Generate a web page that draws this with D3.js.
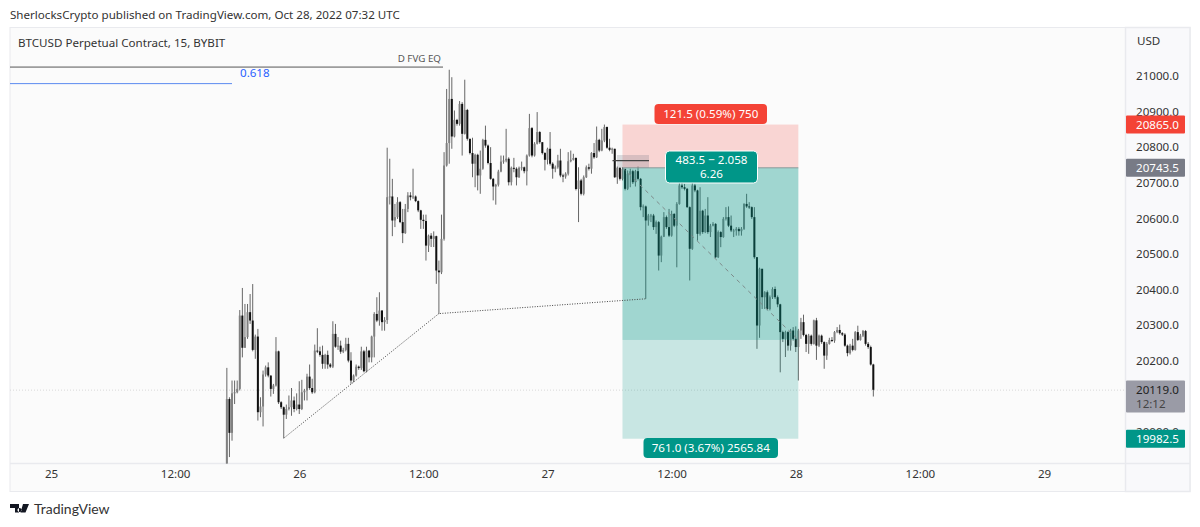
<!DOCTYPE html>
<html>
<head>
<meta charset="utf-8">
<script src="https://cdnjs.cloudflare.com/ajax/libs/d3/7.8.5/d3.min.js"></script>
<style>
  body { margin: 0; background: #fff; }
  text { font-family: "Noto Sans", sans-serif; }
</style>
</head>
<body>
<svg id="chart" width="1200" height="527"></svg>
<script>
// BTCUSD 15 minute bars, first bar is number 68 after Oct 25 00:00
var firstBar = 68;
var firstOpen = 19880;
var closes = [
  20094,19999,20110,20113,20122.5,20328.5,20238,20268,20338,20314.5,
  20232,20269.5,20057,20073,20163,20183,20160,20122.5,20132,20228,
  20085,20071,20050,20066,20071,20090,20066,20078.5,20066,20113,
  20118,20157,20125,20113,20230,20228,20218,20193,20218,20191,
  20185,20277,20241,20244,20227,20232,20249,20202,20146,20160,
  20185,20181,20228,20172,20230,20211,20269.5,20333,20314.5,20342.5,
  20310,20316,20661,20663,20595.5,20605,20647,20591,20560,20628,
  20666,20661,20663,20650,20624,20597.5,20594,20525,20553,20544,
  20551.5,20455,20450,20544,20750,20813,20937,20831.5,20878,20867,
  20923,20839,20906,20825,20785,20755,20780,20722,20741,20822,
  20806,20757,20712.5,20691,20696,20733,20761,20764,20769,20703,
  20743.5,20741,20717,20743.5,20745,20734,20778,20855,20778,20811,
  20844,20815.5,20785,20766,20797,20755,20741,20745,20764,20722,
  20719,20727,20762,20766,20771,20684,20708,20670.5,20717,20745,
  20741,20785,20773,20822,20792,20820,20858,20800,20794,20797,
  20717,20743.5,20712.5,20740.5,20684.5,20726.5,20734,20703,20734,20712.5,
  20633,20635,20595.5,20609.5,20609.5,20577,20591,20497,20550,20605,
  20577,20553,20614,20581,20642,20694,20689,20684.5,20633,20516,
  20694,20680,20558,20623,20563,20609.5,20563,20581,20586,20492.5,
  20563,20549,20600,20605,20581,20567.5,20567.5,20572,20565.5,20572,
  20642,20635,20633,20605,20492.5,20300.5,20460,20380,20394,20347,
  20380,20403,20380,20360,20282,20263,20282,20244,20286.5,20263,
  20240,20286.5,20310,20274,20249,20272,20249,20315,20244,20272,
  20254,20216,20249,20260,20258,20282,20288,20279,20275,20244,
  20223,20244,20232,20282,20260,20272,20285,20249,20240,20191,
  20120
];
var highs = [
  20181.5,20099,20146,20146,20146,20344,20406,20361,20361,20389,
  20417,20275,20291,20099,20174,20188,20197,20160,20136.5,20268,
  20230,20088,20073,20078.5,20104,20125,20101,20110,20144,20148,
  20122.5,20165,20191,20151,20247,20293,20241,20244,20221,20230,
  20195,20312.5,20305,20268,20258,20238,20266,20266,20225.5,20163,
  20191,20188,20241,20232,20241,20232,20272,20338,20380,20394,
  20344,20324,20800,20769,20712.5,20642,20661,20650,20628,20642,
  20675,20675,20741,20666,20652,20625.5,20612,20612,20556,20560,
  20565,20553,20483,20612,20787.5,20965,21019,20998,20904.5,20881,
  20931,20928,20991,20909,20825,20828,20783,20783,20792,20825,
  20862,20809,20801.5,20715,20698.5,20738,20778,20778,20853,20773,
  20747,20771.5,20745,20747,20761,20747,20781,20895,20858,20815.5,
  20900,20846.5,20815.5,20787.5,20800,20844,20759,20750,20780,20797,
  20727,20731,20787.5,20792,20783,20773,20745,20712.5,20722,20750,
  20755,20787.5,20813,20859.5,20825,20853,20865,20859.5,20825,20800,
  20797,20747,20745,20745,20741,20736,20741,20738,20738,20747,
  20715,20640.5,20637.5,20614,20614,20614,20595.5,20594,20553,20619,
  20609.5,20628,20623,20616,20647,20708,20703,20698.5,20687,20635,
  20708,20698.5,20682,20689,20625.5,20628,20661,20586,20591,20588,
  20567.5,20565.5,20605,20633,20635,20609.5,20572,20577,20577,20577,
  20644,20670.5,20647,20635,20633,20492.5,20463,20432,20397,20399,
  20385,20408,20410,20385,20361.5,20286,20286,20285,20291,20296,
  20298,20291,20322,20331,20277,20277,20275,20317,20322,20275,
  20275,20256,20254,20266,20268,20285,20296,20303,20282,20279,
  20247,20249,20263,20285,20300,20277,20288,20288,20254,20244,
  20193
];
var lows = [
  19860,19931,19977,20080,20110,20118,20211,20238,20263,20305,
  20228,20207,20033.5,20043,20017,20157,20155,20101,20108.5,20129,
  20080,20066,19984,20038,20062,20047,20057,20062,20052,20063,
  20090,20090,20120,20108.5,20110,20223,20213,20179,20179,20179,
  20181,20181,20238,20232,20221,20223,20228,20197,20136.5,20141,
  20157,20176,20176,20169,20169,20197,20197,20211,20310,20300,
  20286,20286,20305,20640.5,20551.5,20577,20600,20588,20532,20558,
  20619,20652,20656,20647,20619,20572,20572,20483,20507,20521,
  20521,20417.5,20333,20445,20539,20747,20755,20797,20829,20862,
  20862,20778,20837,20820,20781,20717,20689,20680,20670.5,20738,
  20800,20753,20710,20652,20640,20691,20731,20755,20759,20694,
  20694,20731,20694,20715,20736,20728,20694,20775,20773,20775,
  20809,20811,20781,20736,20753,20750,20713,20731,20741,20717,
  20703,20713,20722,20759,20764,20680,20591,20666,20666,20715,
  20736,20727,20769,20771,20787.5,20790,20815.5,20797,20790,20783,
  20715,20698.5,20708,20708,20680,20681,20689,20698,20691,20708,
  20624,20605,20375.5,20581,20591,20569,20558,20455,20478.5,20549,
  20572,20549,20550,20577,20464,20640,20684.5,20680,20631,20427,
  20513,20675,20539,20553,20558,20560,20558,20549,20579,20490,
  20490,20520.5,20547,20595.5,20577,20563,20549,20553,20553,20553,
  20569,20631,20628,20600,20488,20235,20266,20347,20347,20343,
  20343,20375,20375,20352,20169,20254,20212,20230,20230,20258,
  20226,20146,20263,20270,20226,20221,20244,20247,20204,20240,
  20249,20179,20204,20247,20254,20252,20279,20275,20271,20241,
  20214,20219,20228,20230,20257,20258,20268,20244,20235,20188,
  20101
];

// 20100.0 sits fully behind the grey last price tag in the picture, so it is left out
var priceTicks = [21000, 20900, 20800, 20700, 20600, 20500, 20400, 20300, 20200, 20000];
var timeTicks = ['2022-10-25T00:00Z', '2022-10-25T12:00Z', '2022-10-26T00:00Z', '2022-10-26T12:00Z',
  '2022-10-27T00:00Z', '2022-10-27T12:00Z', '2022-10-28T00:00Z', '2022-10-28T12:00Z', '2022-10-29T00:00Z'];

var stopPrice = 20865, entryPrice = 20743.5, targetPrice = 19982.5, lastPrice = 20119, reachedPrice = 20260;
var positionStartBar = 221, positionEndBar = 289;
var swingBars = [90, 150, 230];
var swingPrices = [19984, 20334, 20375.5];
var fvgPrice = 21026.5, fibPrice = 20980, boxTop = 20779.5, boxBottom = 20743.5, boxLine = 20763.5;

var svg = d3.select('#chart');
var width = 1200, height = 527;
var fontSize = '11.6px';

var plotLeft = 10, plotRight = 1125.5, plotTop = 27.5, plotBottom = 463.5, frameRight = 1190, frameBottom = 491.5;

var startDay = Date.UTC(2022, 9, 25);
function barTime(n) { return new Date(startDay + n * 15 * 60000); }

var x = d3.scaleUtc()
    .domain([new Date('2022-10-25T00:00Z'), new Date('2022-10-29T00:00Z')])
    .range([51, 1044]);
var y = d3.scaleLinear().domain([21000, 20200]).range([76.5, 361.3]);

var bars = closes.map(function (c, i) {
  return { n: firstBar + i, open: i ? closes[i - 1] : firstOpen, close: c, high: highs[i], low: lows[i] };
});

// panels
svg.append('rect').attr('x', plotLeft).attr('y', plotTop).attr('width', frameRight - plotLeft)
    .attr('height', frameBottom - plotTop).style('fill', '#fbfbfb').style('stroke', '#e9eaee');
svg.append('rect').attr('x', plotRight).attr('y', plotTop).attr('width', frameRight - plotRight)
    .attr('height', frameBottom - plotTop).style('fill', '#f9f9fb').style('stroke', '#e9eaee').style('stroke-width', 1.5);
svg.append('line').attr('x1', plotLeft).attr('x2', frameRight).attr('y1', plotBottom).attr('y2', plotBottom)
    .style('stroke', '#e9eaee').style('stroke-width', 1.5);

svg.append('defs').append('clipPath').attr('id', 'plot').append('rect')
    .attr('x', plotLeft).attr('y', plotTop).attr('width', plotRight - plotLeft).attr('height', plotBottom - plotTop);
var g = svg.append('g').attr('clip-path', 'url(#plot)');

// last price dotted line
g.append('line').attr('x1', plotLeft).attr('x2', plotRight).attr('y1', y(lastPrice)).attr('y2', y(lastPrice))
    .style('stroke', '#d8d8d8').style('stroke-width', 1).style('stroke-dasharray', '1 2');

// candles
g.selectAll('line.wick').data(bars).join('line').attr('class', 'wick')
    .attr('x1', function (d) { return x(barTime(d.n)); })
    .attr('x2', function (d) { return x(barTime(d.n)); })
    .attr('y1', function (d) { return y(d.high); })
    .attr('y2', function (d) { return y(d.low); })
    .style('stroke', '#666').style('stroke-width', 1);

g.selectAll('rect.body').data(bars).join('rect').attr('class', 'body')
    .attr('x', function (d) { return x(barTime(d.n)) - 1; })
    .attr('width', 2)
    .attr('y', function (d) { return y(Math.max(d.open, d.close)); })
    .attr('height', function (d) { return Math.max(1, Math.abs(y(d.open) - y(d.close))); })
    .style('fill', function (d) { return d.close >= d.open ? '#808080' : '#111'; });

// long position tool
var posX = x(barTime(positionStartBar)), posW = x(barTime(positionEndBar)) - posX;
g.append('rect').attr('x', posX).attr('width', posW).attr('y', y(stopPrice)).attr('height', y(entryPrice) - y(stopPrice))
    .style('fill', 'rgba(244,67,54,0.2)');
g.append('rect').attr('x', posX).attr('width', posW).attr('y', y(entryPrice)).attr('height', y(targetPrice) - y(entryPrice))
    .style('fill', 'rgba(0,150,136,0.2)');
g.append('rect').attr('x', posX).attr('width', posW).attr('y', y(entryPrice)).attr('height', y(reachedPrice) - y(entryPrice))
    .style('fill', 'rgba(0,150,136,0.2)');
g.append('line').attr('x1', posX).attr('x2', posX + posW).attr('y1', y(entryPrice)).attr('y2', y(reachedPrice))
    .style('stroke', '#7d8a8a').style('stroke-width', 1).style('stroke-dasharray', '4 4');
g.append('line').attr('x1', posX).attr('x2', posX + posW).attr('y1', y(entryPrice)).attr('y2', y(entryPrice))
    .style('stroke', '#8a9a98').style('stroke-width', 1);

// grey box and line at the top of the position
var boxX = 617, boxX2 = 649;
g.append('rect').attr('x', boxX).attr('width', boxX2 - boxX).attr('y', y(boxTop)).attr('height', y(boxBottom) - y(boxTop))
    .style('fill', 'rgba(120,123,134,0.25)');
g.append('line').attr('x1', 612.5).attr('x2', boxX2).attr('y1', y(boxLine)).attr('y2', y(boxLine))
    .style('stroke', '#444').style('stroke-width', 1.2);

// swing lines
var swingLine = d3.line()
    .x(function (d, i) { return x(barTime(swingBars[i])); })
    .y(function (d) { return y(d); });
g.append('path').attr('d', swingLine(swingPrices))
    .style('fill', 'none').style('stroke', '#444').style('stroke-width', 1).style('stroke-dasharray', '1 1.5');

// levels at the top left
g.append('line').attr('x1', plotLeft).attr('x2', 443).attr('y1', y(fvgPrice)).attr('y2', y(fvgPrice))
    .style('stroke', '#555').style('stroke-width', 1);
g.append('line').attr('x1', plotLeft).attr('x2', 232).attr('y1', y(fibPrice)).attr('y2', y(fibPrice))
    .style('stroke', '#5c8bf0').style('stroke-width', 1);
svg.append('text').attr('x', 441).attr('y', 62).attr('text-anchor', 'end').style('font-size', '9.8px').style('fill', '#555').text('D FVG EQ');
svg.append('text').attr('x', 240).attr('y', 77).style('font-size', fontSize).style('fill', '#2962ff').text('0.618');

function label(x0, y0, w, h, fill, lines, border) {
  var r = svg.append('rect').attr('x', x0).attr('y', y0).attr('width', w).attr('height', h).attr('rx', 4).style('fill', fill);
  if (border) r.style('stroke', '#fff').style('stroke-width', 1);
  lines.forEach(function (t, i) {
    svg.append('text').attr('x', x0 + w / 2).attr('y', y0 + h / 2 + 4.2 - (lines.length - 1) * 7 + i * 14)
        .attr('text-anchor', 'middle').style('font-size', fontSize).style('fill', '#fff').text(t);
  });
}
label(654.5, 104, 112.5, 20, '#f44336', ['121.5 (0.59%) 750']);
label(665.5, 151, 92, 32, '#009688', ['483.5 \u2212 2.058', '6.26'], true);
label(643.5, 438, 134.5, 20, '#009688', ['761.0 (3.67%) 2565.84']);

// price axis
var yAxis = d3.axisRight(y).tickValues(priceTicks).tickSize(0).tickPadding(0)
    .tickFormat(function (d) { return d.toFixed(1); });
var ya = svg.append('g').attr('transform', 'translate(1136,-0.5)').call(yAxis);
ya.select('.domain').remove();
ya.selectAll('text').style('font-size', fontSize).style('fill', '#333').attr('font-family', null);

svg.append('text').attr('x', 1137).attr('y', 44.5).style('font-size', fontSize).style('fill', '#333').text('USD');

// time axis
var xAxis = d3.axisBottom(x).tickValues(timeTicks.map(function (d) { return new Date(d); })).tickSize(0).tickPadding(0)
    .tickFormat(function (d) { return d.getUTCHours() ? '12:00' : d3.utcFormat('%d')(d); });
var xa = svg.append('g').attr('transform', 'translate(0,470)').call(xAxis);
xa.select('.domain').remove();
xa.selectAll('text').style('font-size', fontSize).style('fill', '#333').attr('font-family', null);

// price labels on the axis
function priceTag(v, fill) {
  svg.append('rect').attr('x', 1126).attr('y', y(v) - 9).attr('width', 59).attr('height', 18).attr('rx', 1).style('fill', fill);
  svg.append('text').attr('x', 1136).attr('y', y(v) + 4.2).style('font-size', fontSize).style('fill', '#fff').text(v.toFixed(1));
}
priceTag(stopPrice, '#f44336');
priceTag(entryPrice, '#787b86');
priceTag(targetPrice, '#009688');
svg.append('rect').attr('x', 1126).attr('y', 380.5).attr('width', 59).attr('height', 32).attr('rx', 1).style('fill', '#9a9ba6');
svg.append('text').attr('x', 1136).attr('y', 393.5).style('font-size', fontSize).style('fill', '#222').text(lastPrice.toFixed(1));
svg.append('text').attr('x', 1136).attr('y', 407.5).style('font-size', fontSize).style('fill', '#444').text('12:12');

// titles
svg.append('text').attr('x', 10).attr('y', 19).style('font-size', fontSize).style('fill', '#333')
    .text('SherlocksCrypto published on TradingView.com, Oct 28, 2022 07:32 UTC');
svg.append('text').attr('x', 18).attr('y', 47).style('font-size', fontSize).style('fill', '#333')
    .text('BTCUSD Perpetual Contract, 15, BYBIT');

// logo
svg.append('path').attr('d', 'M10 504h9v8.5h-4v-4.5h-5z M19.5 508a2 2 0 1 0 .01 0z M23 504h6l-3.5 8.5h-5z').style('fill', '#131722');
svg.append('text').attr('x', 34).attr('y', 514).style('font-family', 'Lato, sans-serif').style('font-size', '14px').style('fill', '#333').text('TradingView');
</script>
</body>
</html>
